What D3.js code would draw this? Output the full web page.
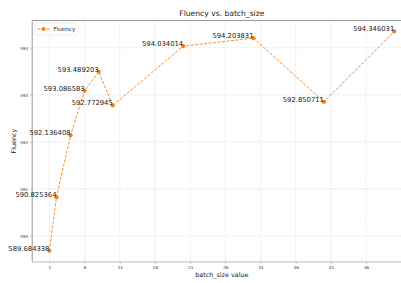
<!DOCTYPE html>
<html><head><meta charset="utf-8">
<script src="https://cdn.jsdelivr.net/npm/d3@7"></script>
<style>body{margin:0;background:#fff}svg{display:block;font-family:"DejaVu Sans",sans-serif}</style>
</head><body><svg id="c" width="401" height="283"></svg>
<script>
const batchSizes = [1, 2, 4, 6, 8, 10, 20, 30, 40, 50];
const fluency = [589.684338, 590.825364, 592.136408, 593.086583, 593.489203, 592.772945, 594.034014, 594.203831, 592.850711, 594.346031];
const xTicks = [1, 6, 11, 16, 21, 26, 31, 36, 41, 46];
const yTicks = [590, 591, 592, 593, 594];
const title = "Fluency vs. batch_size";
const xLabel = "batch_size value";
const yLabel = "Fluency";
const seriesName = "Fluency";

const svg = d3.select("#c");
const L = 32.2, R = 411.5, T = 20.5, B = 261.8;
const xr = d3.extent(batchSizes), xm = (xr[1]-xr[0])*0.05;
const yr = d3.extent(fluency), ym = (yr[1]-yr[0])*0.05;
const x = d3.scaleLinear().domain([xr[0]-xm, xr[1]+xm]).range([L, R]);
const y = d3.scaleLinear().domain([yr[0]-ym, yr[1]+ym]).range([B, T]);
const color = "#ff7f0e";

// grid
svg.append("g").selectAll("line").data(xTicks).join("line")
  .attr("x1", d=>x(d)).attr("x2", d=>x(d)).attr("y1", T).attr("y2", B)
  .attr("stroke", "#d8d8d8").attr("stroke-width", 0.6).attr("stroke-dasharray", "1.5,1");
svg.append("g").selectAll("line").data(yTicks).join("line")
  .attr("x1", L).attr("x2", R).attr("y1", d=>y(d)).attr("y2", d=>y(d))
  .attr("stroke", "#d8d8d8").attr("stroke-width", 0.6).attr("stroke-dasharray", "1.5,1");

// axes
const xa = svg.append("g").attr("transform", `translate(0,${B})`)
  .call(d3.axisBottom(x).tickValues(xTicks).tickFormat(d3.format("d")).tickSize(2).tickPadding(2));
const ya = svg.append("g").attr("transform", `translate(${L},0)`)
  .call(d3.axisLeft(y).tickValues(yTicks).tickFormat(d3.format("d")).tickSize(2).tickPadding(2));
[xa, ya].forEach(a => {
  a.selectAll("text").attr("font-size", 4.2).attr("fill", "#333").attr("font-family", "DejaVu Sans");
  a.selectAll(".tick line").attr("stroke", "#888").attr("stroke-width", 0.5);
  a.select(".domain").remove();
});
// spines
svg.append("line").attr("x1", L).attr("x2", L).attr("y1", T).attr("y2", B).attr("stroke", "#999").attr("stroke-width", 1);
svg.append("line").attr("x1", L).attr("x2", R).attr("y1", B).attr("y2", B).attr("stroke", "#c8c8c8").attr("stroke-width", 1.3);
svg.append("line").attr("x1", L).attr("x2", R).attr("y1", T).attr("y2", T).attr("stroke", "#999").attr("stroke-width", 1);

// line
const pts = batchSizes.map((b,i)=>[b, fluency[i]]);
svg.append("path").datum(pts)
  .attr("d", d3.line().x(d=>x(d[0])).y(d=>y(d[1])))
  .attr("fill", "none").attr("stroke", color).attr("stroke-width", 0.9).attr("stroke-dasharray", "3,1.5");
svg.append("g").selectAll("circle").data(pts).join("circle")
  .attr("cx", d=>x(d[0])).attr("cy", d=>y(d[1])).attr("r", 2.1).attr("fill", color);
svg.append("g").selectAll("text").data(pts).join("text")
  .attr("x", d=>x(d[0])).attr("y", d=>y(d[1]))
  .attr("text-anchor", "end").attr("font-size", 6.8).attr("fill", "#222")
  .text(d=>d[1].toFixed(6));

// title & labels
svg.append("text").attr("x", (L+R)/2).attr("y", 15.5).attr("text-anchor", "middle")
  .attr("font-size", 7.6).attr("fill", "#222").text(title);
svg.append("text").attr("x", (L+R)/2).attr("y", 277).attr("text-anchor", "middle")
  .attr("font-size", 6.4).attr("fill", "#222").text(xLabel);
svg.append("text").attr("transform", `translate(16,${(T+B)/2}) rotate(-90)`).attr("text-anchor", "middle")
  .attr("font-size", 6.4).attr("fill", "#222").text(yLabel);

// legend
const lg = svg.append("g");
lg.append("rect").attr("x", 35).attr("y", 23).attr("width", 43).attr("height", 12).attr("rx", 1.5)
  .attr("fill", "#fff").attr("fill-opacity", 0.85).attr("stroke", "#ddd").attr("stroke-width", 0.6);
lg.append("line").attr("x1", 37.5).attr("x2", 49.5).attr("y1", 29).attr("y2", 29)
  .attr("stroke", color).attr("stroke-width", 0.9).attr("stroke-dasharray", "3,1.5");
lg.append("circle").attr("cx", 43.5).attr("cy", 29).attr("r", 2.1).attr("fill", color);
lg.append("text").attr("x", 53.5).attr("y", 31.3).attr("font-size", 5.6).attr("fill", "#222").text(seriesName);
</script></body></html>
